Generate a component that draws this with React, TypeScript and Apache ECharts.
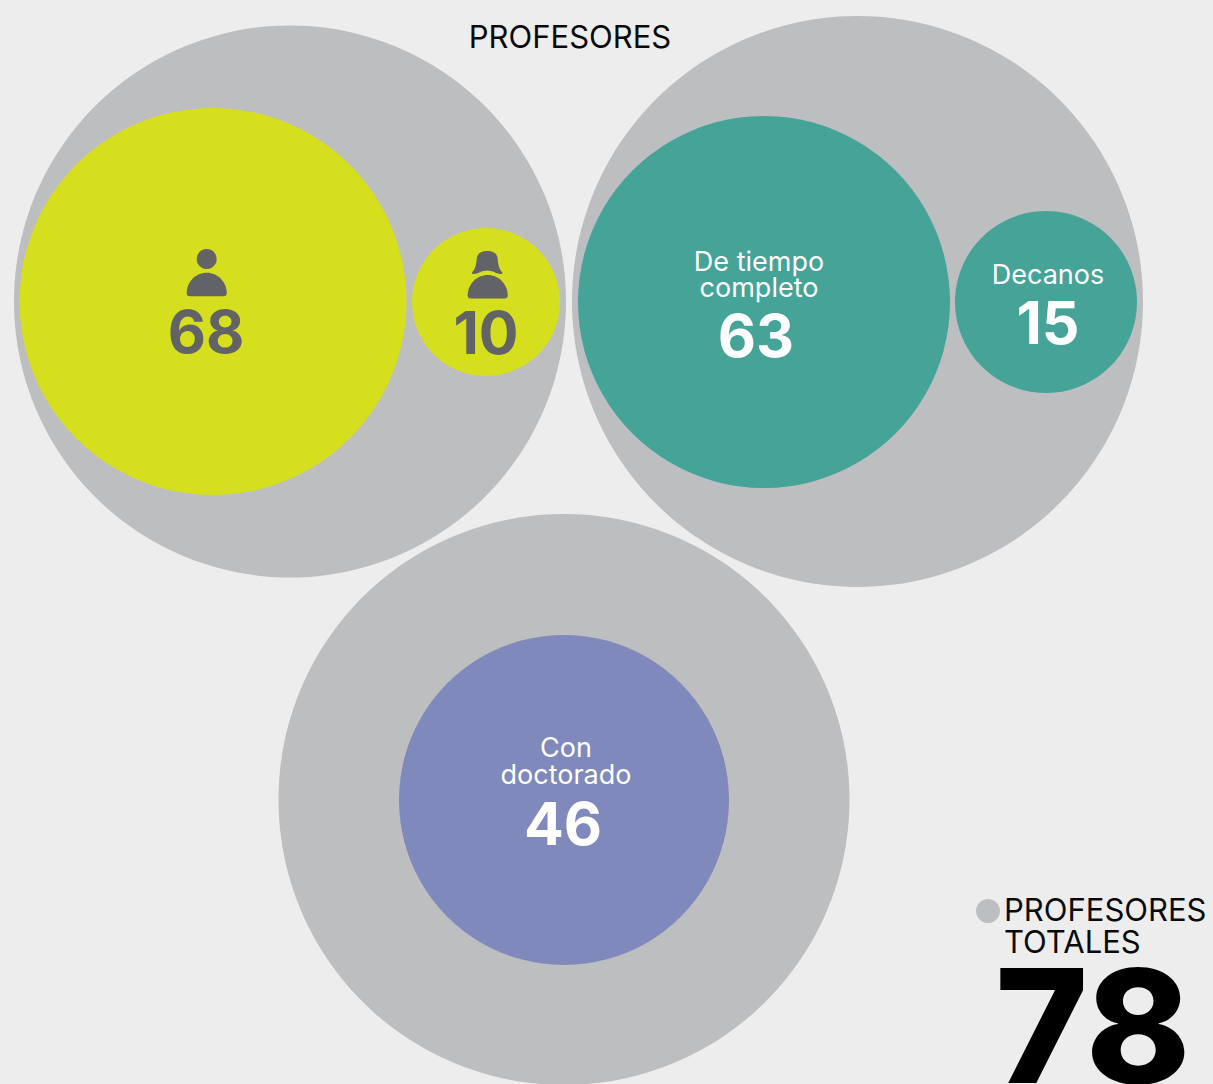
import React, { useEffect, useRef } from "react";
import * as echarts from "echarts";

const W = 1213;
const H = 1084;

// Data
const titleText = "PROFESORES";
const legendLines = ["PROFESORES", "TOTALES"];
const totalTeachers = 78;
const men = 68;
const women = 10;
const fullTime = 63;
const deans = 15;
const withDoctorate = 46;
const fullTimeLabel = ["De tiempo", "completo"];
const deansLabel = ["Decanos"];
const doctorateLabel = ["Con", "doctorado"];

// Layout: bubble centres and diameters on a page-sized scale
const bubbles = [
  { name: "Total género", value: totalTeachers, x: 290, y: 301.5, d: 552, color: "#BDBEC0" },
  { name: "Total dedicación", value: totalTeachers, x: 857.5, y: 301.5, d: 571, color: "#BDBEC0" },
  { name: "Total doctorado", value: totalTeachers, x: 564, y: 799.5, d: 571, color: "#BDBEC0" },
  { name: "Hombres", value: men, x: 213, y: 301.5, d: 387, color: "#D6DF1E" },
  { name: "Mujeres", value: women, x: 486, y: 302, d: 148, color: "#D6DF1E" },
  { name: "De tiempo completo", value: fullTime, x: 764, y: 302, d: 372, color: "#45A398" },
  { name: "Decanos", value: deans, x: 1046, y: 302, d: 182, color: "#45A398" },
  { name: "Con doctorado", value: withDoctorate, x: 564, y: 800, d: 330, color: "#7F89BB" },
  { name: "Leyenda", value: totalTeachers, x: 988, y: 911, d: 24, color: "#BDBEC0" },
];

const FONT = "Inter";
const DARK = "#626366";

echarts.graphic.registerShape(
  "domeIcon",
  echarts.graphic.extendPath(
    "M3 23.5C1 23.5 0 22.5 0 20.5C0 9 9 0 20 0C31 0 40 9 40 20.5C40 22.5 39 23.5 37 23.5Z",
    {}
  )
);
echarts.graphic.registerShape(
  "hairIcon",
  echarts.graphic.extendPath(
    "M14.5 0C21 0 24.5 2.5 25 8C25.5 14 26.5 18.5 29.5 21C30 22 29.5 23 28 23C24 23 20 19.5 14.5 19.5C9 19.5 5 23 1 23C-0.5 23 -1 22 -0.5 21C2.5 18.5 3.5 14 4 8C4.5 2.5 8 0 14.5 0Z",
    {}
  )
);

const text = (
  t: string,
  x: number,
  y: number,
  size: number,
  weight: number | string,
  fill: string,
  align: "center" | "left" = "center",
  lineHeight?: number
) => ({
  type: "text",
  x,
  y,
  z: 20,
  silent: true,
  style: {
    text: t,
    fontFamily: FONT,
    fontSize: size,
    fontWeight: weight,
    fill,
    align,
    verticalAlign: "middle",
    lineHeight: lineHeight ?? size,
  },
});

export default function App() {
  const ref = useRef<HTMLDivElement>(null);

  useEffect(() => {
    document.body.style.margin = "0";
    document.body.style.background = "#EDEDED";
    const chart = echarts.init(ref.current!, undefined, { renderer: "svg" });
    chart.setOption({
      animation: false,
      backgroundColor: "#EDEDED",
      grid: { left: 0, right: 0, top: 0, bottom: 0 },
      xAxis: { type: "value", min: 0, max: W, show: false },
      yAxis: { type: "value", min: 0, max: H, inverse: true, show: false },
      series: [
        {
          type: "scatter",
          silent: true,
          clip: false,
          symbol: "circle",
          data: bubbles.map((b) => ({
            name: b.name,
            value: [b.x, b.y, b.value],
            symbolSize: b.d,
            itemStyle: { color: b.color, opacity: 1 },
          })),
        },
      ],
      graphic: {
        elements: [
          text(titleText, 570, 36, 31, 400, "#0A0A0A"),
          // Man icon and count
          { type: "circle", z: 20, silent: true, shape: { cx: 206.7, cy: 259, r: 10 }, style: { fill: DARK } },
          { type: "domeIcon", z: 20, silent: true, x: 186.7, y: 272.7, style: { fill: DARK } },
          text(String(men), 206, 331, 59, 700, DARK),
          // Woman icon and count
          { type: "hairIcon", z: 20, silent: true, x: 472.7, y: 251, style: { fill: DARK } },
          { type: "domeIcon", z: 20, silent: true, x: 467.7, y: 275, style: { fill: DARK } },
          text(String(women), 486, 332, 59, 700, DARK),
          // Full time
          text(fullTimeLabel.join("\n"), 759, 274, 27, 400, "#FFFFFF", "center", 26),
          text(String(fullTime), 756, 335, 59, 700, "#FFFFFF"),
          // Deans
          text(deansLabel[0], 1048, 274, 27, 400, "#FFFFFF"),
          text(String(deans), 1048, 322, 59, 700, "#FFFFFF"),
          // Doctorate
          text(doctorateLabel.join("\n"), 566, 760.5, 27, 400, "#FFFFFF", "center", 27),
          text(String(withDoctorate), 563, 823, 59, 700, "#FFFFFF"),
          // Legend
          text(legendLines.join("\n"), 1004, 925.5, 31, 400, "#0A0A0A", "left", 32),
          text(String(totalTeachers), 1093, 1025, 158, 800, "#000000"),
        ],
      },
    });
    return () => chart.dispose();
  }, []);

  return (
    <div
      ref={ref}
      style={{ position: "absolute", left: 0, top: 0, width: W, height: H, overflow: "hidden" }}
    />
  );
}
